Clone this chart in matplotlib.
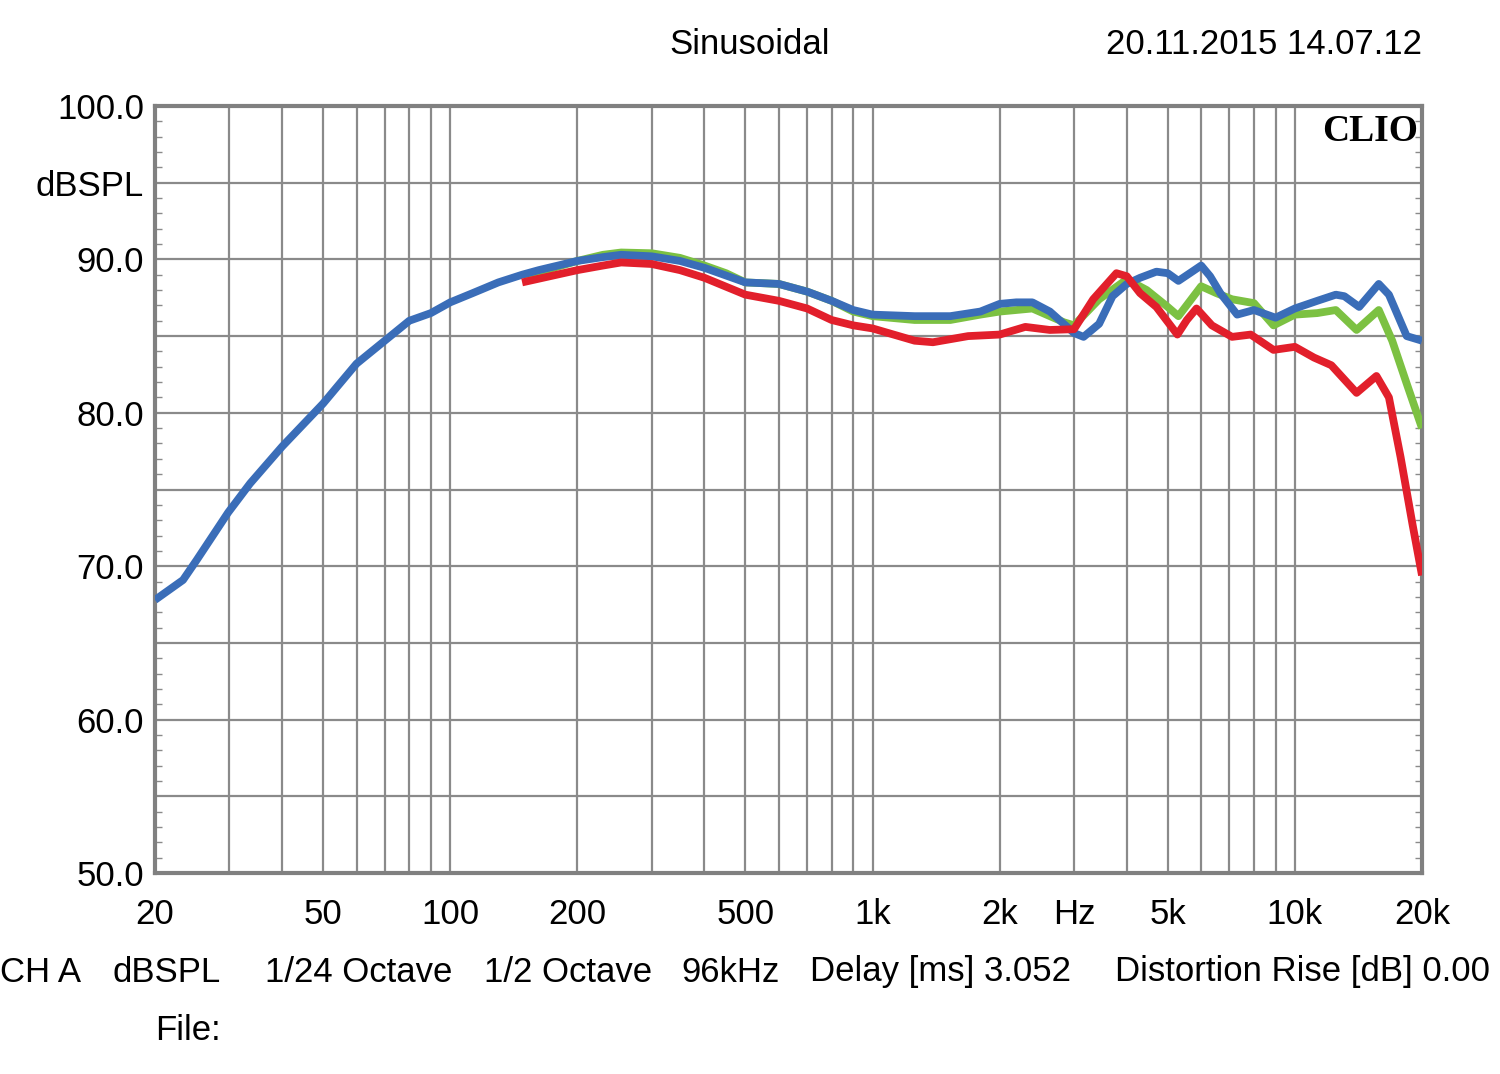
import matplotlib
matplotlib.use("Agg")
import matplotlib.pyplot as plt
from matplotlib.ticker import FixedLocator, NullFormatter

plt.rcParams['font.family'] = ['Liberation Sans', 'DejaVu Sans']

# ---- data ----
blue_f = [20, 23.3, 25.1, 29.8, 33.6, 40, 50, 54, 60, 70, 80, 90, 100, 113, 130, 148, 162,
          200, 230, 254, 300, 350, 400, 500, 600, 700, 800, 900, 1000, 1258, 1528, 1800, 2000, 2190,
          2390, 2630, 3000, 3160, 3440, 3700, 4000, 4300, 4700, 5000, 5300, 5640, 6000,
          6300, 6660, 7300, 8000, 9000, 10000, 11300, 12500, 13100, 14200, 15800, 16700,
          18400, 20000]
blue_db = [67.8, 69.1, 70.4, 73.5, 75.4, 77.8, 80.6, 81.7, 83.2, 84.7, 86.0, 86.5, 87.2,
           87.8, 88.5, 89.0, 89.3, 89.9, 90.15, 90.3, 90.2, 89.9, 89.45, 88.5, 88.4, 87.9, 87.3, 86.7,
           86.4, 86.3, 86.3, 86.6, 87.1, 87.2, 87.2, 86.6, 85.2, 84.95, 85.8, 87.6, 88.4,
           88.8, 89.2, 89.1, 88.6, 89.1, 89.6, 88.9, 87.8, 86.4, 86.7, 86.2, 86.8, 87.3,
           87.7, 87.6, 86.9, 88.4, 87.7, 85.0, 84.7]

green_f = [150, 200, 230, 254, 300, 350, 400, 450, 500, 600, 700, 800, 900, 1000, 1258, 1528, 1800,
           2000, 2390, 2840, 3000, 3440, 4000, 4460, 5000, 5300, 6000, 6520, 7100, 8000,
           8900, 10000, 11300, 12500, 14000, 15800, 17000, 18400, 20000]
green_db = [88.9, 89.9, 90.3, 90.45, 90.4, 90.1, 89.6, 89.1, 88.5, 88.4, 87.9, 87.3, 86.6, 86.3, 86.05,
            86.05, 86.4, 86.6, 86.8, 85.9, 85.7, 87.4, 88.7, 88.0, 86.9, 86.3, 88.25, 87.8,
            87.4, 87.15, 85.7, 86.4, 86.5, 86.7, 85.4, 86.7, 84.7, 81.9, 79.0]

red_f = [148, 200, 230, 254, 300, 350, 400, 500, 600, 700, 800, 900, 1000, 1258, 1390, 1684, 2000,
         2300, 2630, 3000, 3330, 3780, 4000, 4300, 4700, 5270, 5550, 5850, 6360, 7100, 7860,
         8900, 10000, 11100, 12200, 14000, 15600, 16700, 17800, 19000, 20000]
red_db = [88.5, 89.3, 89.6, 89.8, 89.7, 89.3, 88.8, 87.7, 87.3, 86.8, 86.05, 85.7, 85.5, 84.7, 84.6,
          85.0, 85.1, 85.6, 85.4, 85.45, 87.4, 89.1, 88.9, 87.8, 86.9, 85.1, 86.05, 86.8,
          85.7, 84.95, 85.1, 84.1, 84.3, 83.6, 83.1, 81.3, 82.4, 81.0, 77.1, 72.7, 69.4]

x_ticks = [20, 50, 100, 200, 500, 1000, 2000, 3000, 5000, 10000, 20000]
x_labels = ['20', '50', '100', '200', '500', '1k', '2k', 'Hz', '5k', '10k', '20k']
y_ticks = [50, 60, 70, 80, 90, 95, 100]
y_labels = ['50.0', '60.0', '70.0', '80.0', '90.0', 'dBSPL', '100.0']

# ---- figure ----
fig = plt.figure(figsize=(15, 10.74), dpi=100)
ax = fig.add_axes([155/1500, 1-873/1074, (1422-155)/1500, (873-106)/1074])
ax.set_xscale('log')
ax.set_xlim(20, 20000)
ax.set_ylim(50, 100)

grid_c = '#8a8a8a'
vgrid = [m * 10**e for e in range(1, 5) for m in range(1, 10)]
vgrid = [v for v in vgrid if 20 < v < 20000]
for v in vgrid:
    ax.axvline(v, color=grid_c, lw=1.6, zorder=1)
for h in range(55, 100, 5):
    ax.axhline(h, color=grid_c, lw=1.6, zorder=1)

lw = 5.6
ax.plot(green_f, green_db, color='#7cc142', lw=lw, zorder=3, solid_joinstyle='round', solid_capstyle='butt')
ax.plot(blue_f, blue_db, color='#3a6db8', lw=lw, zorder=4, solid_joinstyle='round', solid_capstyle='butt')
ax.plot(red_f, red_db, color='#e21f2b', lw=lw, zorder=5, solid_joinstyle='round', solid_capstyle='butt')

fs = 25
ax.xaxis.set_major_locator(FixedLocator(x_ticks))
ax.set_xticklabels(x_labels)
ax.xaxis.set_minor_formatter(NullFormatter())
ax.xaxis.set_minor_locator(FixedLocator([]))
ax.set_yticks(y_ticks)
ax.set_yticklabels(y_labels)
ax.yaxis.set_minor_locator(FixedLocator([v for v in range(51, 100) if v % 5 != 0]))
ax.tick_params(axis='x', which='both', length=0, labelsize=fs, pad=18, colors='black')
ax.tick_params(axis='y', which='major', length=0, labelsize=fs, pad=8, colors='black')
ax.tick_params(axis='y', which='minor', direction='in', length=5, width=1, color=grid_c,
               left=True, right=True)
for s in ax.spines.values():
    s.set_color('#808080')
    s.set_linewidth(3)

ax.text(0.997, 0.99, 'CLIO', transform=ax.transAxes, ha='right', va='top',
        fontsize=27, fontweight='bold', family=['Liberation Serif', 'DejaVu Serif'], zorder=6)

fig.text(750/1500, 1-45/1074, 'Sinusoidal', ha='center', va='center', fontsize=fs)
fig.text(1422/1500, 1-45/1074, '20.11.2015 14.07.12', ha='right', va='center', fontsize=fs)

footer_y = 1-972/1074
items = [(0, 'CH A'), (113, 'dBSPL'), (265, '1/24 Octave'), (484, '1/2 Octave'),
         (681, '96kHz'), (810, 'Delay [ms] 3.052'), (1115, 'Distortion Rise [dB] 0.00')]
for xp, t in items:
    fig.text(xp/1500, footer_y, t, ha='left', va='center', fontsize=fs)
fig.text(155/1500, 1-1030/1074, 'File:', ha='left', va='center', fontsize=fs)

fig.savefig('out.png', dpi=100, facecolor='white')
